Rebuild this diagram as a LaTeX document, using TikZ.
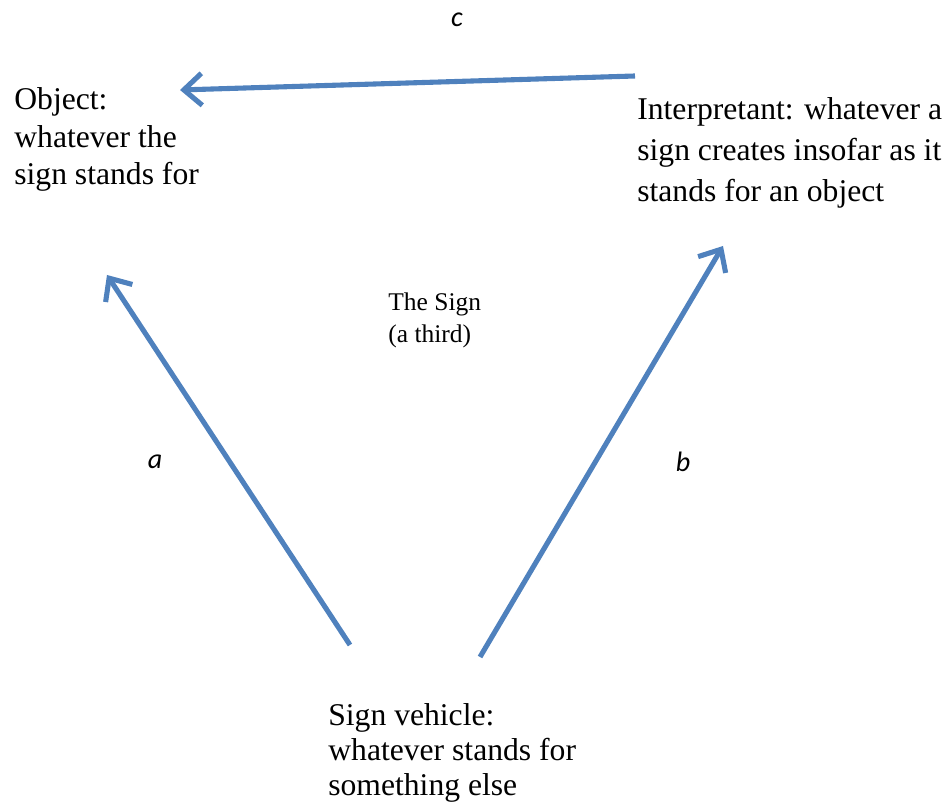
\documentclass[tikz,border=0pt]{standalone}
\usepackage{fontspec}
\setmainfont{Liberation Serif}
\newfontfamily\labelfont{Carlito}
\usetikzlibrary{arrows.meta}
\begin{document}
\begin{tikzpicture}[
	blue arrow/.style={color=signblue, line width=2.9pt, -{Straight Barb[length=3.6mm,width=6.4mm]}},
	term/.style={anchor=base west, align=left, inner sep=0pt},
	letter/.style={inner sep=0pt, font=\labelfont\itshape\fontsize{16}{19}\selectfont}
	]
	\definecolor{signblue}{RGB}{79,129,189}
	\useasboundingbox (0,0) rectangle (18.98,16.08);

	% base anchor sits on the last line
	\node (object) [term, font=\fontsize{18}{21.5}\selectfont] at (0.28,12.38) {Object:\\whatever the\\sign stands for};
	\node (interp) [term, font=\fontsize{18}{23.5}\selectfont] at (12.74,12.04) {Interpretant: whatever a\\sign creates insofar as it\\stands for an object};
	\node (vehicle) [term, font=\fontsize{18}{20}\selectfont] at (6.56,0.16) {Sign vehicle:\\whatever stands for\\something else};
	\node (sign) [term, font=\fontsize{14.5}{18.7}\selectfont] at (7.76,9.22) {The Sign\\(a third)};

	\coordinate (c0) at (12.70,14.56);
	\coordinate (c1) at (3.60,14.28);
	\coordinate (a0) at (7.00,3.18);
	\coordinate (a1) at (2.14,10.58);
	\coordinate (b0) at (9.60,2.94);
	\coordinate (b1) at (14.46,11.16);

	\draw [blue arrow] (c0) -- (c1);
	\draw [blue arrow] (a0) -- (a1);
	\draw [blue arrow] (b0) -- (b1);

	\node (lc) [letter] at (9.14,15.68) {c};
	\node (la) [letter] at (3.10,6.84) {a};
	\node (lb) [letter] at (13.66,6.84) {b};
\end{tikzpicture}
\end{document}
